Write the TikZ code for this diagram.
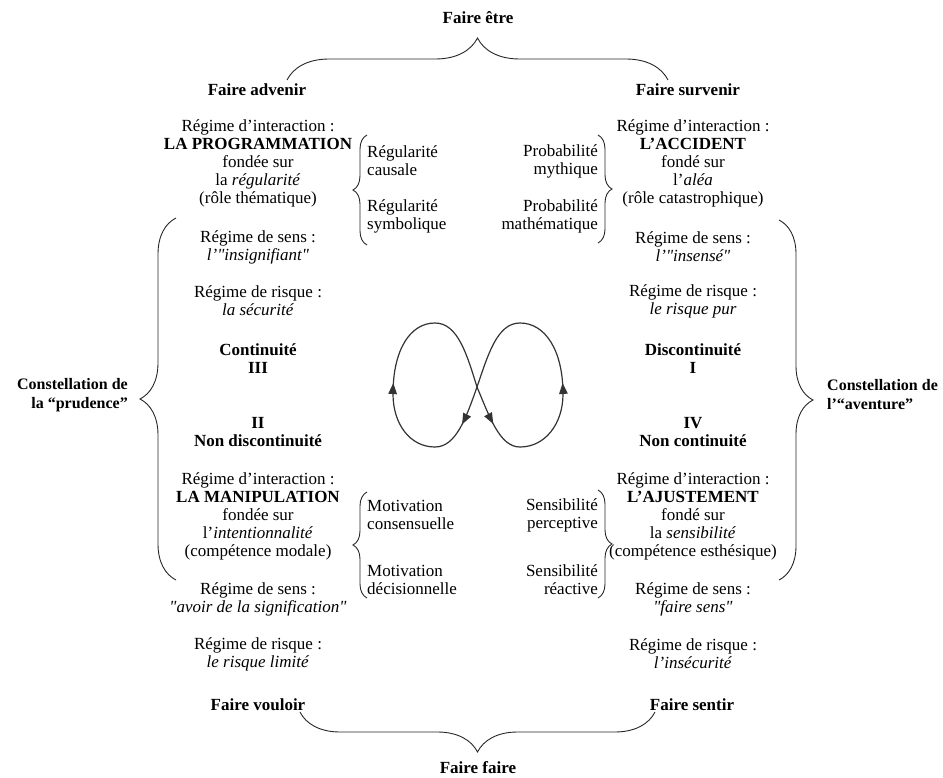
\documentclass[tikz,border=0pt]{standalone}
\usepackage{fontspec}
\setmainfont{Liberation Serif}[Ligatures=TeXOff]
\usetikzlibrary{decorations.pathreplacing,decorations.markings,arrows.meta}
\begin{document}
\begin{tikzpicture}[x=1pt,y=-1pt,
 txt/.style={align=center,inner sep=0pt,font=\fontsize{17}{18}\selectfont},
 ltxt/.style={align=left,inner sep=0pt,anchor=west,font=\fontsize{17}{18}\selectfont},
 rtxt/.style={align=right,inner sep=0pt,anchor=east,font=\fontsize{17}{18}\selectfont},
 btxt/.style={align=center,inner sep=0pt,font=\bfseries\fontsize{17}{18}\selectfont},
 ctxt/.style={inner sep=0pt,font=\bfseries\fontsize{16}{19}\selectfont},
 brc/.style={decorate,decoration={brace,amplitude=#1},line width=0.9pt,black!85},
 loopline/.style={line width=1.2pt,black!80},
 arr/.style={postaction={decorate},decoration={markings,mark=at position #1 with {\arrow{Triangle[length=11pt,width=8.5pt]}}}}
]
\useasboundingbox (0,0) rectangle (943,778);

% top / bottom labels
\node[btxt] (fe) at (478,18) {Faire être};
\node[btxt] (fa) at (257,90) {Faire advenir};
\node[btxt] (fs) at (688,90) {Faire survenir};
\node[btxt] (fv) at (258,705) {Faire vouloir};
\node[btxt] (fsn) at (692,705) {Faire sentir};
\node[btxt] (ff) at (478,768) {Faire faire};

% left column
\node[txt] (l1) at (258,163) {Régime d’interaction :\\\textbf{LA PROGRAMMATION}\\fondée sur\\la \textit{régularité}\\(rôle thématique)};
\node[txt] (l2) at (258,247) {Régime de sens :\\\textit{l’"insignifiant"}};
\node[txt] (l3) at (258,301) {Régime de risque :\\\textit{la sécurité}};
\node[btxt] (l4) at (258,359) {Continuité\\III};
\node[btxt] (l5) at (258,432) {II\\Non discontinuité};
\node[txt] (l6) at (258,516) {Régime d’interaction :\\\textbf{LA MANIPULATION}\\fondée sur\\l’\textit{intentionnalité}\\(compétence modale)};
\node[txt] (l7) at (258,599) {Régime de sens :\\\textit{"avoir de la signification"}};
\node[txt] (l8) at (258,654) {Régime de risque :\\\textit{le risque limité}};

% right column
\node[txt] (r1) at (693,163) {Régime d’interaction :\\\textbf{L’ACCIDENT}\\fondé sur\\l’\textit{aléa}\\(rôle catastrophique)};
\node[txt] (r2) at (693,247) {Régime de sens :\\\textit{l’"insensé"}};
\node[txt] (r3) at (693,301) {Régime de risque :\\\textit{le risque pur}};
\node[btxt] (r4) at (693,359) {Discontinuité\\I};
\node[btxt] (r5) at (693,432) {IV\\Non continuité};
\node[txt] (r6) at (693,516) {Régime d’interaction :\\\textbf{L’AJUSTEMENT}\\fondé sur\\la \textit{sensibilité}\\(compétence esthésique)};
\node[txt] (r7) at (693,599) {Régime de sens :\\\textit{"faire sens"}};
\node[txt] (r8) at (693,654) {Régime de risque :\\\textit{l’insécurité}};

% side texts
\node[ltxt] (s1) at (367,161) {Régularité\\causale};
\node[ltxt] (s2) at (367,216) {Régularité\\symbolique};
\node[ltxt] (s3) at (367,515) {Motivation\\consensuelle};
\node[ltxt] (s4) at (367,580) {Motivation\\décisionnelle};
\node[rtxt] (p1) at (598,161) {Probabilité\\mythique};
\node[rtxt] (p2) at (598,216) {Probabilité\\mathématique};
\node[rtxt] (p3) at (598,515) {Sensibilité\\perceptive};
\node[rtxt] (p4) at (598,580) {Sensibilité\\réactive};

% constellations
\node[ctxt,align=right,anchor=east] (cl) at (128,395) {Constellation de\\la “prudence”};
\node[ctxt,align=left,anchor=west] (cr) at (827,395) {Constellation de\\l’“aventure”};

% braces
\draw[brc=42pt] (287,80) -- (668,80);
\draw[brc=40pt] (655,712) -- (300,712);
\draw[brc=36pt] (176,580) -- (176,218);
\draw[brc=34pt] (779,220) -- (779,580);
\draw[brc=14pt] (367,245) -- (367,135);
\draw[brc=14pt] (367,598) -- (367,492);
\draw[brc=14pt] (598,135) -- (598,243);
\draw[brc=14pt] (598,490) -- (598,598);

% infinity loop
\coordinate (C) at (477,387);
\coordinate (LB) at (435,447);
\coordinate (LL) at (393,394);
\coordinate (LT) at (435,323);
\coordinate (RB) at (520,447);
\coordinate (RR) at (563,394);
\coordinate (RT) at (520,323);
\draw[loopline,arr=0.52] (C) .. controls (490,418) and (500,447) .. (RB);
\draw[loopline] (RB) .. controls (545,447) and (563,424) .. (RR);
\draw[loopline,arr=0.12] (RR) .. controls (563,350) and (545,323) .. (RT);
\draw[loopline] (RT) .. controls (497,323) and (488,355) .. (C);
\draw[loopline,arr=0.52] (C) .. controls (466,418) and (456,447) .. (LB);
\draw[loopline] (LB) .. controls (410,447) and (393,424) .. (LL);
\draw[loopline,arr=0.12] (LL) .. controls (393,350) and (410,323) .. (LT);
\draw[loopline] (LT) .. controls (458,323) and (467,355) .. (C);
\end{tikzpicture}
\end{document}
